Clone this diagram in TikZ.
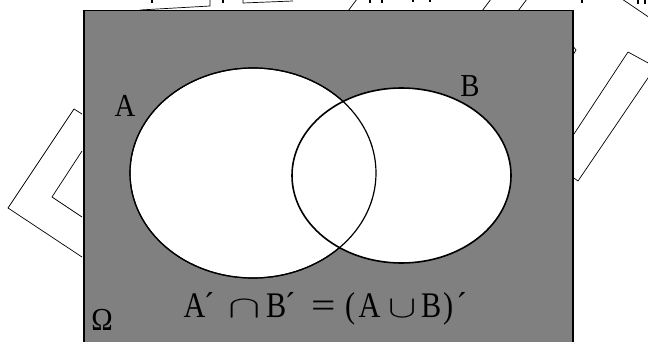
\documentclass[tikz,border=0pt]{standalone}
\usepackage{fontspec}
\setmainfont{Liberation Serif}
\usepackage{graphicx}
\usepackage{tikz}
\usetikzlibrary{shapes.geometric}
\definecolor{omegagray}{HTML}{808080}
\newcommand{\narrow}[1]{\scalebox{0.84}[1]{#1}}
\newcommand{\glyphat}[2]{\rlap{\hspace{#1pt}#2}}
\newcommand{\setop}[2]{\scalebox{#1}[1.25]{\fontsize{24.88}{25}\selectfont$#2$}}
\tikzset{
  universe/.style={draw=black, line width=1.5pt, fill=omegagray},
  setfill/.style={ellipse, draw=black, line width=1.2pt, fill=white, inner sep=0pt},
  setline/.style={ellipse, draw=black, line width=1.2pt, inner sep=0pt},
  setlabel/.style={font=\fontsize{32}{32}\selectfont, anchor=base, inner sep=0pt},
  lawtext/.style={font=\fontsize{36}{36}\selectfont, anchor=base west, inner sep=0pt},
  scrap/.style={draw=black, line width=0.7pt},
  glyphbit/.style={draw=black, line width=2pt}
}

\begin{document}
\begin{tikzpicture}[x=1pt, y=-1pt]
  \useasboundingbox (0,0) rectangle (648,342);
  \clip (0,0) rectangle (648,342);

  % leftover outlines behind the frame
  \draw[scrap] (82,114) -- (74,109) -- (8,208) -- (82,257);
  \draw[scrap] (82,151) -- (52,197) -- (82,217);
  \draw[scrap] (572,137) -- (628,52) -- (650,64);
  \draw[scrap] (650,75) -- (578,181) -- (571,176);
  \draw[scrap] (572,45) -- (576,50) -- (573,55);
  \draw[scrap] (140,10) -- (210,6) -- (210,-1);
  \draw[scrap] (243,-1) -- (243,3) -- (293,1);
  \foreach \xa in {348,482,518}
    \draw[scrap] (\xa,11) -- (\xa+9,-1);
  \draw[scrap] (622,-1) -- (650,18);
  \foreach \xb/\hb in {152/3,223/3,370/3,382/3,413/2,430/2,582/3,638/4,645/4}
    \draw[glyphbit] (\xb,-1) -- (\xb,\hb);

  % universe
  \node[universe, rectangle, minimum width=489pt, minimum height=360pt, anchor=north west, inner sep=0pt] (omega) at (83,10) {};

  % sets
  \node[setfill, minimum width=246pt, minimum height=210pt] (A) at (253,173) {};
  \node[setfill, line width=1.6pt, minimum width=219pt, minimum height=175pt] (B) at (401.5,175.5) {};
  \node[setline, minimum width=246pt, minimum height=210pt] (Aline) at (A.center) {};

  % labels
  \node[setlabel] (labA) at (125,117) {\scalebox{0.9}[1]{A}};
  \node[setlabel] (labB) at (470,97) {\scalebox{0.9}[1]{B}};
  \node[setlabel] (labO) at (102,330) {\scalebox{0.9}[1]{Ω}};
  \node[lawtext] (law) at (183,317) {%
    \glyphat{0}{\narrow{A}}\glyphat{20.4}{\narrow{´}}%
    \glyphat{45}{\setop{1.95}{\cap}}%
    \glyphat{82.5}{\narrow{B}}\glyphat{101.4}{\narrow{´}}%
    \glyphat{127.5}{\scalebox{1.2}[1]{=}}%
    \glyphat{161.5}{\narrow{(}}\glyphat{175}{\narrow{A}}%
    \glyphat{204.5}{\setop{1.7}{\cup}}%
    \glyphat{237.5}{\narrow{B}}\glyphat{259.5}{\narrow{)}}\glyphat{273}{\narrow{´}}%
    \hspace{290pt}};
\end{tikzpicture}
\end{document}
